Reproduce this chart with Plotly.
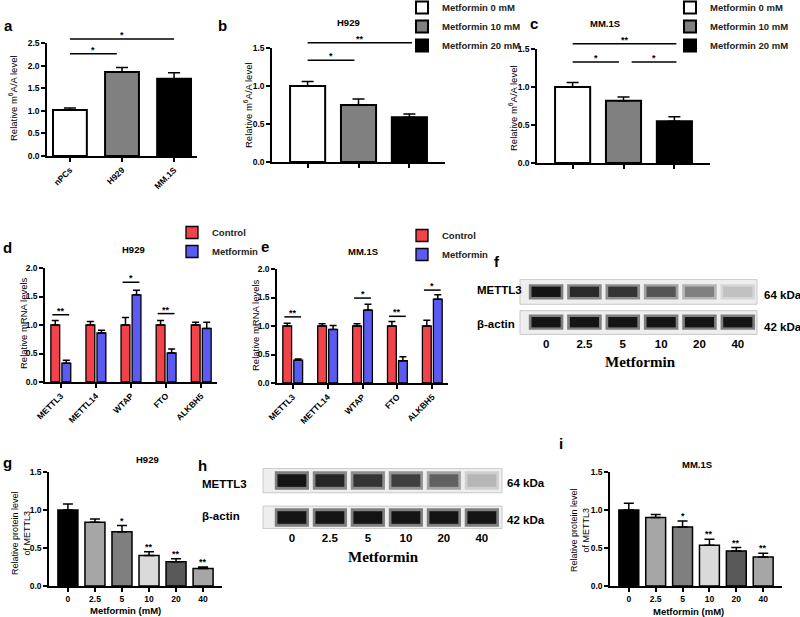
import plotly.graph_objects as go

W, H = 800, 617
SANS = "Liberation Sans, Arial, sans-serif"
SERIF = "Liberation Serif, Times New Roman, serif"

# =========================
# DATA
# =========================

a_groups = ["nPCs", "H929", "MM.1S"]
a_m6a = [1.02, 1.86, 1.71]
a_err = [0.04, 0.10, 0.13]

doses = ["Metformin 0 mM", "Metformin 10 mM", "Metformin 20 mM"]
b_m6a = [1.00, 0.75, 0.59]
b_err = [0.06, 0.08, 0.04]
c_m6a = [1.00, 0.82, 0.55]
c_err = [0.06, 0.05, 0.06]

genes = ["METTL3", "METTL14", "WTAP", "FTO", "ALKBH5"]
d_control = [1.00, 1.00, 1.00, 1.00, 1.00]
d_control_err = [0.08, 0.06, 0.13, 0.08, 0.05]
d_metformin = [0.33, 0.86, 1.53, 0.51, 0.94]
d_metformin_err = [0.05, 0.05, 0.08, 0.07, 0.11]
e_control = [1.00, 1.00, 1.00, 1.00, 1.00]
e_control_err = [0.05, 0.04, 0.04, 0.08, 0.10]
e_metformin = [0.40, 0.94, 1.28, 0.39, 1.47]
e_metformin_err = [0.02, 0.07, 0.10, 0.07, 0.08]

lanes = ["0", "2.5", "5", "10", "20", "40"]
f_mettl3_band = [1.0, 0.9, 0.85, 0.7, 0.5, 0.2]
f_actin_band = [1.0, 1.0, 1.0, 1.0, 1.0, 1.0]
h_mettl3_band = [1.0, 0.92, 0.85, 0.8, 0.65, 0.25]
h_actin_band = [1.0, 1.0, 1.0, 1.0, 1.0, 1.0]

g_protein = [1.00, 0.84, 0.715, 0.40, 0.32, 0.23]
g_err = [0.08, 0.04, 0.08, 0.05, 0.04, 0.02]
i_protein = [1.00, 0.90, 0.775, 0.535, 0.46, 0.38]
i_err = [0.09, 0.04, 0.08, 0.08, 0.045, 0.05]
gi_stars = ["", "", "*", "**", "**", "**"]

# significance brackets (x0, x1, level, label)
a_sig = [(0, 0.9, 2.26, "*"), (0, 2.0, 2.59, "*")]
b_sig = [(0, 0.92, 1.34, "*"), (0, 2.05, 1.57, "**")]
c_sig = [(0, 0.91, 1.33, "*"), (1.16, 2.04, 1.33, "*"), (0, 2.04, 1.57, "**")]
# per gene (index, level, label)
d_sig = [(0, 1.18, "**"), (2, 1.75, "*"), (3, 1.20, "**")]
e_sig = [(0, 1.16, "**"), (2, 1.49, "*"), (3, 1.17, "**"), (4, 1.63, "*")]

red = "#F2424A"
blue = "#5B5BF2"
dose_colors = ["white", "#808080", "black"]
gi_colors = ["#000000", "#a6a6a6", "#7f7f7f", "#dadada", "#595959", "#a6a6a6"]

# =========================
# HELPERS
# =========================

def xdom(p0, p1):
    return [p0 / W, p1 / W]


def ydom(top, bottom):
    return [1 - bottom / H, 1 - top / H]


def sfx(n):
    return "" if n == 1 else str(n)


def up_err(err, cap=4):
    return dict(type="data", array=err, arrayminus=[0] * len(err), symmetric=False,
                color="black", thickness=1.5, width=cap)


layout = {}
shapes = []
annos = []
traces = []

tick_font = dict(family=SANS, size=8.5, color="black", weight="bold")


def bar_axes(n, px0, px1, top, bottom, ymax, xrange, ticktext, angle=0):
    layout["xaxis" + sfx(n)] = dict(
        domain=xdom(px0, px1), anchor="y" + sfx(n), range=xrange,
        tickvals=list(range(len(ticktext))), ticktext=ticktext, tickangle=angle,
        showticklabels=any(ticktext),
        showline=True, linecolor="black", linewidth=1.5, ticks="outside",
        ticklen=4, tickwidth=1.5, tickcolor="black", tickfont=tick_font,
        showgrid=False, zeroline=False, fixedrange=True)
    layout["yaxis" + sfx(n)] = dict(
        domain=ydom(top, bottom), anchor="x" + sfx(n), range=[0, ymax],
        tickvals=[k * 0.5 for k in range(int(ymax / 0.5) + 1)], tickformat=".1f",
        showline=True, linecolor="black", linewidth=1.5, ticks="outside",
        ticklen=4, tickwidth=1.5, tickcolor="black", tickfont=tick_font,
        showgrid=False, zeroline=False, fixedrange=True)


def sig(n, x0, x1, level, ymax, label):
    yd = level / ymax
    shapes.append(dict(type="line", xref="x" + sfx(n), yref="y" + sfx(n) + " domain",
                       x0=x0, x1=x1, y0=yd, y1=yd, line=dict(color="black", width=1.5)))
    annos.append(dict(xref="x" + sfx(n), yref="y" + sfx(n) + " domain", x=(x0 + x1) / 2,
                      y=yd, text=label, showarrow=False, yanchor="bottom", yshift=-3,
                      font=dict(family=SANS, size=9, color="black", weight="bold")))


def txt(x, y, s, size=9.5, bold=True, angle=0, anchor="center", family=SANS):
    annos.append(dict(xref="paper", yref="paper", x=x / W, y=1 - y / H, text=s,
                      showarrow=False, textangle=angle, xanchor=anchor, yanchor="middle",
                      font=dict(family=family, size=size, color="black",
                                weight="bold" if bold else "normal")))


def band_gray(k, depth):
    g = round(236 - k * depth)
    return f"rgb({g},{g},{g})"


def blot(n, rows, xrange, yrange, px0, px1, top, bottom, strips):
    xs, bases, colors, glow = [], [], [], []
    for r, bands in enumerate(rows):
        for j, k in enumerate(bands):
            xs.append(j)
            bases.append(r)
            colors.append(band_gray(k, 216))
            glow.append(band_gray(k, 110))
    traces.append(go.Bar(x=xs, y=[0.5] * len(xs), base=[b - 0.25 for b in bases],
                         width=0.9, offset=-0.45, marker=dict(color=glow, line=dict(width=0)),
                         xaxis="x" + sfx(n), yaxis="y" + sfx(n), showlegend=False,
                         hoverinfo="skip"))
    traces.append(go.Bar(x=xs, y=[0.34] * len(xs), base=[b - 0.17 for b in bases],
                         width=0.76, offset=-0.38, marker=dict(color=colors, line=dict(width=0)),
                         xaxis="x" + sfx(n), yaxis="y" + sfx(n), showlegend=False,
                         hoverinfo="skip"))
    layout["xaxis" + sfx(n)] = dict(
        domain=xdom(px0, px1), anchor="y" + sfx(n), range=xrange,
        tickvals=list(range(len(lanes))), ticktext=lanes, ticks="", showline=False,
        showgrid=False, zeroline=False, fixedrange=True,
        tickfont=dict(family=SANS, size=11.5, color="black", weight="bold"))
    layout["yaxis" + sfx(n)] = dict(
        domain=ydom(top, bottom), anchor="x" + sfx(n), range=yrange, visible=False,
        fixedrange=True)
    for y0, y1 in strips:
        shapes.append(dict(type="rect", xref="x" + sfx(n) + " domain", yref="y" + sfx(n),
                           x0=0, x1=1, y0=y0, y1=y1, layer="below",
                           fillcolor="#eeeeee", line=dict(color="#c8c8c8", width=1)))


# =========================
# PANEL a
# =========================

traces.append(go.Bar(x=list(range(3)), y=a_m6a, width=0.65, error_y=up_err(a_err, 6),
                     marker=dict(color=dose_colors, line=dict(color="black", width=2)),
                     showlegend=False))
bar_axes(1, 47, 197, 43, 156, 2.5, [-0.44, 2.44], a_groups, angle=-45)
for x0, x1, lv, lab in a_sig:
    sig(1, x0, x1, lv, 2.5, lab)

# =========================
# PANELS b, c
# =========================

for n, vals, errs, leg in [(2, b_m6a, b_err, "legend"), (3, c_m6a, c_err, "legend2")]:
    for j in range(3):
        traces.append(go.Bar(x=[j], y=[vals[j]], width=0.69, offsetgroup="dose",
                             error_y=up_err([errs[j]], 6), name=doses[j], legend=leg,
                             marker=dict(color=dose_colors[j], line=dict(color="black", width=2)),
                             xaxis="x" + sfx(n), yaxis="y" + sfx(n)))
bar_axes(2, 272, 445, 48, 162, 1.5, [-0.7, 2.7], ["", "", ""])
bar_axes(3, 537, 710, 49, 163, 1.5, [-0.7, 2.7], ["", "", ""])
for x0, x1, lv, lab in b_sig:
    sig(2, x0, x1, lv, 1.5, lab)
for x0, x1, lv, lab in c_sig:
    sig(3, x0, x1, lv, 1.5, lab)

# =========================
# PANELS d, e
# =========================

for n, ctl, ctl_e, met, met_e, leg in [
        (4, d_control, d_control_err, d_metformin, d_metformin_err, "legend3"),
        (5, e_control, e_control_err, e_metformin, e_metformin_err, "legend4")]:
    traces.append(go.Bar(x=list(range(5)), y=ctl, name="Control", legend=leg,
                         error_y=up_err(ctl_e, 3.5),
                         marker=dict(color=red, line=dict(color="black", width=1.3)),
                         xaxis="x" + sfx(n), yaxis="y" + sfx(n)))
    traces.append(go.Bar(x=list(range(5)), y=met, name="Metformin", legend=leg,
                         error_y=up_err(met_e, 3.5),
                         marker=dict(color=blue, line=dict(color="black", width=1.3)),
                         xaxis="x" + sfx(n), yaxis="y" + sfx(n)))
bar_axes(4, 45, 217, 268, 382, 2.0, [-0.45, 4.45], genes, angle=-45)
bar_axes(5, 277, 448, 269, 383, 2.0, [-0.45, 4.45], genes, angle=-45)
for gi, lv, lab in d_sig:
    sig(4, gi - 0.24, gi + 0.24, lv, 2.0, lab)
for gi, lv, lab in e_sig:
    sig(5, gi - 0.24, gi + 0.24, lv, 2.0, lab)

# =========================
# WESTERN BLOTS f, h
# =========================

blot(6, [f_mettl3_band, f_actin_band], [-0.68, 5.5], [1.42, -0.42], 520, 757, 279, 335,
     [(-0.41, 0.41), (0.62, 1.40)])
blot(8, [h_mettl3_band, h_actin_band], [-0.76, 5.53], [1.31, -0.34], 263, 502, 468, 529,
     [(-0.33, 0.33), (0.69, 1.30)])

# =========================
# PANELS g, i
# =========================

for n, vals, errs in [(7, g_protein, g_err), (9, i_protein, i_err)]:
    traces.append(go.Bar(x=list(range(6)), y=vals, width=0.74, error_y=up_err(errs, 5),
                         marker=dict(color=gi_colors, line=dict(color="black", width=1.5)),
                         xaxis="x" + sfx(n), yaxis="y" + sfx(n), showlegend=False))
    for j, s in enumerate(gi_stars):
        if s:
            annos.append(dict(xref="x" + sfx(n), yref="y" + sfx(n) + " domain", x=j,
                              y=(vals[j] + errs[j]) / 1.5, text=s, showarrow=False,
                              yanchor="bottom", yshift=-2,
                              font=dict(family=SANS, size=9, color="black", weight="bold")))
bar_axes(7, 49, 222, 472, 586, 1.5, [-0.7, 5.7], lanes)
bar_axes(9, 610, 782, 472, 586, 1.5, [-0.7, 5.7], lanes)

# =========================
# TEXT
# =========================

for x, y, s in [(8, 25, "a"), (222, 25, "b"), (534, 24, "c"), (7, 247, "d"), (265, 246, "e"),
                (497, 262, "f"), (7, 463, "g"), (202, 465, "h"), (561, 443, "i")]:
    txt(x, y, s, size=15)

for x, y, s in [(348, 23, "H929"), (605, 24, "MM.1S"), (133, 249, "H929"),
                (363, 252, "MM.1S"), (147, 459, "H929"), (697, 464, "MM.1S")]:
    txt(x, y, s, size=9.5)

m6a_label = "Relative m<sup>6</sup>A/A level"
txt(13, 98, m6a_label, bold=False, angle=-90)
txt(248, 105, m6a_label, bold=False, angle=-90)
txt(513, 108, m6a_label, bold=False, angle=-90)
txt(23, 323, "Relative mRNA levels", bold=False, angle=-90)
txt(255, 325, "Relative mRNA levels", bold=False, angle=-90)
txt(21, 533, "Relative protein level<br>of METTL3", size=9, bold=False, angle=-90)
txt(580, 530, "Relative protein level<br>of METTL3", size=9, bold=False, angle=-90)
txt(125, 610, "Metformin (mM)", size=9.5)
txt(688, 611, "Metformin (mM)", size=9.5)

for x, ya, yb in [(475, 290, 324), (200, 484, 516)]:
    txt(x, ya, "METTL3", size=11.5, anchor="left")
    txt(x, yb, "β-actin", size=11.5, anchor="left")
for x, ya, yb in [(762, 295, 327), (505, 483, 520)]:
    txt(x, ya, "64 kDa", size=11.5, anchor="left")
    txt(x, yb, "42 kDa", size=11.5, anchor="left")
txt(640, 362, "Metformin", size=15, family=SERIF)
txt(383, 557, "Metformin", size=15, family=SERIF)

# =========================
# LEGENDS + FIGURE
# =========================

leg_font = dict(family=SANS, size=9.5, color="#222", weight="bold")
for key, lx, ly in [("legend", 402, -7), ("legend2", 670, -7),
                    ("legend3", 172, 218), ("legend4", 402, 221)]:
    layout[key] = dict(x=lx / W, y=1 - ly / H, xanchor="left", yanchor="top",
                       font=leg_font, bgcolor="rgba(0,0,0,0)", tracegroupgap=0,
                       traceorder="normal")

fig = go.Figure(data=traces)
fig.update_layout(
    width=W, height=H, margin=dict(l=0, r=0, t=0, b=0, autoexpand=False),
    paper_bgcolor="white", plot_bgcolor="white",
    barmode="group", bargap=0.37, bargroupgap=0.2,
    shapes=shapes, annotations=annos, **layout)

# page body margin would push the figure 8px off the window
fig.write_html("out.html", config={"displayModeBar": False},
               post_script="document.body.style.margin = '0';")
